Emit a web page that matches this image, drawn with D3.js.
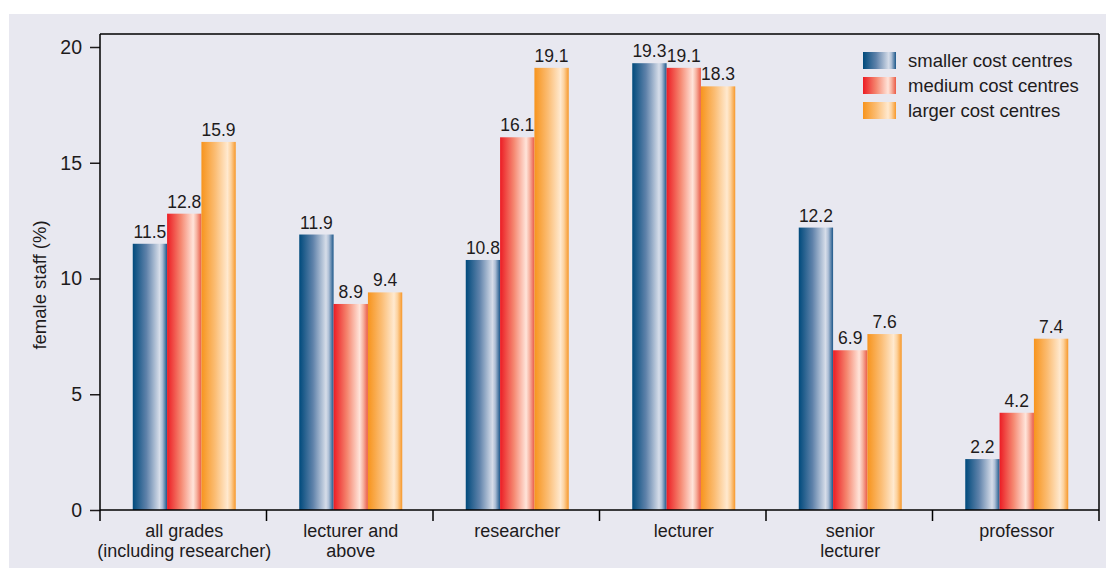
<!DOCTYPE html>
<html>
<head>
<meta charset="utf-8">
<script src="https://cdn.jsdelivr.net/npm/d3@7"></script>
<style>
  html, body { margin: 0; padding: 0; background: #ffffff; }
  svg { display: block; }
  text { font-family: "Liberation Sans", Arial, sans-serif; fill: #1e1b1c; }
</style>
</head>
<body>
<svg id="chart" width="1106" height="569"></svg>
<script>
// Grade categories (each entry is a list of label lines)
const categories = [
  ["all grades", "(including researcher)"],
  ["lecturer and", "above"],
  ["researcher"],
  ["lecturer"],
  ["senior", "lecturer"],
  ["professor"]
];
const seriesNames = ["smaller cost centres", "medium cost centres", "larger cost centres"];
const smallerValues = [11.5, 11.9, 10.8, 19.3, 12.2, 2.2];
const mediumValues  = [12.8, 8.9, 16.1, 19.1, 6.9, 4.2];
const largerValues  = [15.9, 9.4, 19.1, 18.3, 7.6, 7.4];
const yTicks = [0, 5, 10, 15, 20];

const series = [smallerValues, mediumValues, largerValues];

const svg = d3.select("#chart");

// background panel
svg.append("rect")
  .attr("x", 9).attr("y", 14)
  .attr("width", 1097).attr("height", 554)
  .attr("fill", "#e8e8f0");

// horizontal gradients for the three bar colours
const gradStops = [
  [["0%", "#004a7c"], ["40%", "#5f82aa"], ["78%", "#d6dde9"], ["86%", "#aebfd6"], ["100%", "#1c578a"]],
  [["0%", "#ec1c24"], ["40%", "#f58770"], ["76%", "#ffe4da"], ["86%", "#f7b4a2"], ["100%", "#ea5a46"]],
  [["0%", "#f7941d"], ["40%", "#fbbd74"], ["76%", "#ffe9cf"], ["86%", "#fdd29e"], ["100%", "#f7982a"]]
];
const defs = svg.append("defs");
gradStops.forEach((stops, i) => {
  const g = defs.append("linearGradient")
    .attr("id", "grad" + i)
    .attr("x1", "0%").attr("x2", "100%").attr("y1", "0%").attr("y2", "0%");
  stops.forEach(s => g.append("stop").attr("offset", s[0]).attr("stop-color", s[1]));
});

const plotLeft = 100, plotRight = 1099, plotTop = 34, plotBottom = 510;

const x0 = d3.scaleBand()
  .domain(d3.range(categories.length))
  .range([plotLeft, plotRight])
  .padding(0);

const x1 = d3.scaleBand()
  .domain(d3.range(series.length))
  .range([0, x0.bandwidth()])
  .paddingInner(0)
  .paddingOuter(0.925);

const y = d3.scaleLinear().domain([0, 20]).range([plotBottom, 47]);

// bars with value labels
const groups = svg.append("g").selectAll("g")
  .data(categories)
  .join("g")
  .attr("transform", (d, i) => `translate(${x0(i) + 1},0)`);

groups.each(function(cat, ci) {
  const g = d3.select(this);
  series.forEach((vals, si) => {
    const v = vals[ci];
    g.append("rect")
      .attr("x", x1(si))
      .attr("y", y(v))
      .attr("width", x1.bandwidth())
      .attr("height", y(0) - y(v))
      .attr("fill", `url(#grad${si})`);
    g.append("text")
      .attr("x", x1(si) + x1.bandwidth() / 2)
      .attr("y", y(v) - 6)
      .attr("text-anchor", "middle")
      .style("font-size", "17.5px")
      .text(v.toFixed(1));
  });
});

// frame: top and right lines
svg.append("line")
  .attr("x1", plotLeft).attr("x2", plotRight)
  .attr("y1", plotTop).attr("y2", plotTop)
  .attr("stroke", "#000").attr("stroke-width", 1.5);
svg.append("line")
  .attr("x1", plotRight).attr("x2", plotRight)
  .attr("y1", plotTop).attr("y2", plotBottom + 11)
  .attr("stroke", "#000").attr("stroke-width", 1.5);

// y axis
const yAxis = d3.axisLeft(y).tickValues(yTicks).tickSize(10).tickPadding(8);
const yg = svg.append("g").attr("transform", `translate(${plotLeft},0)`).call(yAxis);
yg.select(".domain").remove();
yg.selectAll(".tick line").attr("stroke", "#1e1b1c").attr("stroke-width", 1.5);
yg.selectAll(".tick text")
  .style("font-size", "19.5px")
  .style("font-family", '"Liberation Sans", Arial, sans-serif')
  .attr("fill", "#1e1b1c");
svg.append("line")
  .attr("x1", plotLeft).attr("x2", plotLeft)
  .attr("y1", plotTop).attr("y2", plotBottom)
  .attr("stroke", "#000").attr("stroke-width", 1.5);

// x axis baseline and category boundary ticks
svg.append("line")
  .attr("x1", plotLeft).attr("x2", plotRight)
  .attr("y1", plotBottom).attr("y2", plotBottom)
  .attr("stroke", "#000").attr("stroke-width", 1.5);
svg.append("g").selectAll("line")
  .data(d3.range(categories.length))
  .join("line")
  .attr("x1", i => x0(i)).attr("x2", i => x0(i))
  .attr("y1", plotBottom).attr("y2", plotBottom + 11)
  .attr("stroke", "#000").attr("stroke-width", 1.5);

// category labels
svg.append("g").selectAll("text")
  .data(categories)
  .join("text")
  .attr("x", (d, i) => x0(i) + x0.bandwidth() / 2 + 1)
  .attr("y", 537)
  .attr("text-anchor", "middle")
  .style("font-size", "18px")
  .each(function(lines) {
    const t = d3.select(this);
    lines.forEach((ln, k) => {
      t.append("tspan")
        .attr("x", t.attr("x"))
        .attr("dy", k === 0 ? 0 : 20)
        .text(ln);
    });
  });

// y axis title
svg.append("text")
  .attr("transform", "translate(46,285) rotate(-90)")
  .attr("text-anchor", "middle")
  .style("font-size", "18.5px")
  .text("female staff (%)");

// legend
const legend = svg.append("g").attr("transform", "translate(863,52)");
seriesNames.forEach((name, i) => {
  legend.append("rect")
    .attr("x", 0).attr("y", i * 25)
    .attr("width", 33).attr("height", 17)
    .attr("fill", `url(#grad${i})`);
  legend.append("text")
    .attr("x", 45).attr("y", i * 25 + 14.5)
    .style("font-size", "18.5px")
    .text(name);
});
</script>
</body>
</html>
